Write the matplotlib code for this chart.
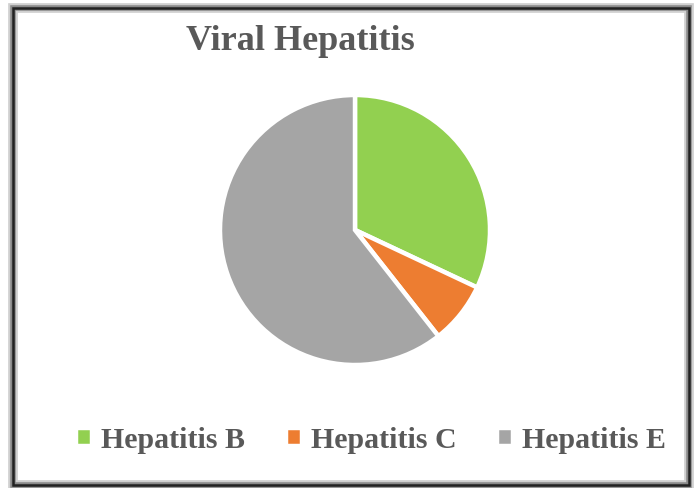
import matplotlib.pyplot as plt
from matplotlib.patches import Rectangle

# Viral hepatitis share
labels = ["Hepatitis B", "Hepatitis C", "Hepatitis E"]
values = [32, 7.4, 60.6]
colors = ["#92d050", "#ed7d31", "#a5a5a5"]

plt.rcParams['font.family'] = ['Liberation Serif', 'DejaVu Serif']

fig = plt.figure(figsize=(6.96, 4.88), dpi=100)
fig.patch.set_facecolor("white")

# frame with a soft shadow
for lw, c in [(7, "#d0d0d0"), (4, "#8a8a8a"), (1.8, "#222222")]:
    fig.add_artist(Rectangle((0.018, 0.006), 0.972, 0.978, transform=fig.transFigure,
                             fill=False, edgecolor=c, linewidth=lw))

ax = fig.add_axes([0.0, 0.0, 1.0, 1.0])
ax.pie(values, colors=colors, startangle=90, counterclock=False,
       center=(355, 258), radius=135,
       wedgeprops=dict(edgecolor="white", linewidth=3.2))
ax.set_xlim(0, 696)
ax.set_ylim(0, 488)
ax.set_aspect("equal")
ax.axis("off")

fig.text(0.431, 0.914, "Viral Hepatitis", ha="center", va="center",
         fontsize=26, fontweight="bold", color="#595959")

leg = fig.legend(ax.patches[:3], labels, loc="center", bbox_to_anchor=(0.533, 0.098),
                 ncol=3, frameon=False, handlelength=0.55, handleheight=0.55,
                 handletextpad=0.3, columnspacing=1.35,
                 prop=dict(size=21.5, weight="bold"))
for t in leg.get_texts():
    t.set_color("#595959")

fig.savefig("out.png", dpi=100)
